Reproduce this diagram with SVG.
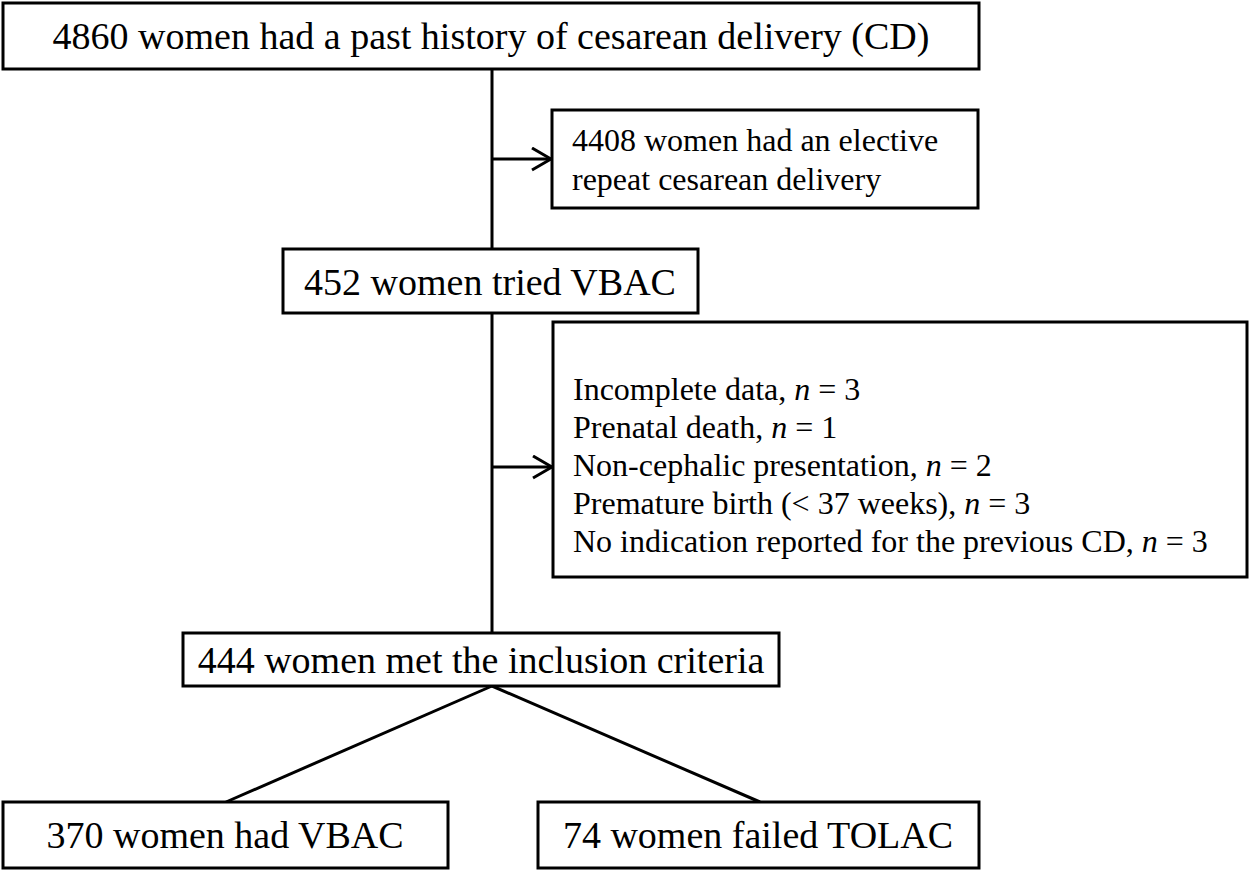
<svg xmlns="http://www.w3.org/2000/svg" width="1250" height="872" viewBox="0 0 1250 872">
<style>
.box{fill:#fff;stroke:#000;stroke-width:3}
.t{font-family:"Liberation Serif","Times New Roman",serif;fill:#000}
.big{font-size:38px}
.sm{font-size:32px}
.ln{stroke:#000;stroke-width:3;fill:none}
</style>
<defs>
<marker id="ah" markerWidth="22" markerHeight="26" refX="20" refY="12" orient="auto" markerUnits="userSpaceOnUse">
<path d="M1,1 L20,12 L1,23" fill="none" stroke="#000" stroke-width="3"/>
</marker>
</defs>
<g id="connectors">
<line class="ln" x1="492" y1="69" x2="492" y2="633"/>
<line class="ln" x1="492" y1="159" x2="551" y2="159" marker-end="url(#ah)"/>
<line class="ln" x1="492" y1="467" x2="552" y2="467" marker-end="url(#ah)"/>
<line class="ln" x1="492" y1="686" x2="226" y2="802"/>
<line class="ln" x1="492" y1="686" x2="760" y2="802"/>
</g>
<g id="n1">
<rect class="box" x="3" y="3" width="976" height="66"/>
<text class="t big" x="491" y="49" text-anchor="middle">4860 women had a past history of cesarean delivery (CD)</text>
</g>
<g id="n2">
<rect class="box" x="552" y="110" width="426" height="98"/>
<text class="t sm" x="572" y="151">4408 women had an elective</text>
<text class="t sm" x="572" y="190">repeat cesarean delivery</text>
</g>
<g id="n3">
<rect class="box" x="283" y="249" width="415" height="64"/>
<text class="t big" x="490" y="295" text-anchor="middle">452 women tried VBAC</text>
</g>
<g id="n4">
<rect class="box" x="553" y="322" width="694" height="255"/>
<text class="t sm" x="573" y="400">Incomplete data, <tspan font-style="italic">n</tspan> = 3</text>
<text class="t sm" x="573" y="438">Prenatal death, <tspan font-style="italic">n</tspan> = 1</text>
<text class="t sm" x="573" y="476">Non-cephalic presentation, <tspan font-style="italic">n</tspan> = 2</text>
<text class="t sm" x="573" y="514">Premature birth (&lt; 37 weeks), <tspan font-style="italic">n</tspan> = 3</text>
<text class="t sm" x="573" y="552">No indication reported for the previous CD, <tspan font-style="italic">n</tspan> = 3</text>
</g>
<g id="n5">
<rect class="box" x="183" y="633" width="596" height="53"/>
<text class="t big" x="481" y="673" text-anchor="middle">444 women met the inclusion criteria</text>
</g>
<g id="n6">
<rect class="box" x="3" y="802" width="445" height="66"/>
<text class="t big" x="225" y="848" text-anchor="middle">370 women had VBAC</text>
</g>
<g id="n7">
<rect class="box" x="538" y="802" width="441" height="66"/>
<text class="t big" x="758" y="848" text-anchor="middle">74 women failed TOLAC</text>
</g>
</svg>
